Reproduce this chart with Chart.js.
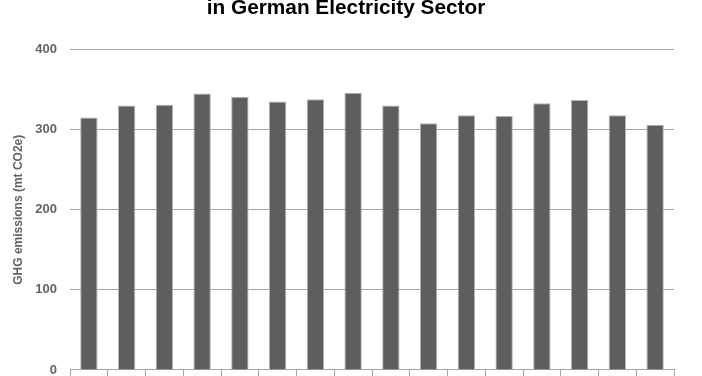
<!DOCTYPE html>
<html lang="en">
<head>
    <meta charset="UTF-8">
    <title>GHG emissions in German Electricity Sector</title>
    <script src="https://cdn.jsdelivr.net/npm/chart.js"></script>
    <style>
        * {
            margin: 0;
            padding: 0;
            box-sizing: border-box;
        }

        body {
            background: #ffffff;
            width: 702px;
            height: 376px;
            overflow: hidden;
        }

        .chart-container {
            position: relative;
            width: 702px;
            height: 404px;
            margin-top: -4px;
        }
    </style>
</head>
<body>
    <div class="chart-container">
        <canvas id="ghgChart"></canvas>
    </div>

    <script>
        // Dados do gráfico
        const years = ["2000", "2001", "2002", "2003", "2004", "2005", "2006", "2007",
                       "2008", "2009", "2010", "2011", "2012", "2013", "2014", "2015"];
        const emissions = [315, 330, 331, 345, 341, 335, 338, 346,
                           330, 308, 318, 317, 333, 337, 318, 306];
        const yTicks = [0, 100, 200, 300, 400];

        const fontFamily = "'Liberation Sans', Arial, sans-serif";
        const labelGray = "#636363";
        const lineGray = "#a6a6a6";

        new Chart(document.getElementById("ghgChart"), {
            type: 'bar',
            data: {
                labels: years,
                datasets: [{
                    label: 'GHG emissions (mt CO2e)',
                    data: emissions,
                    backgroundColor: '#5e5e5e',
                    borderColor: '#b3b3b3',
                    borderWidth: 1,
                    barPercentage: 0.46,
                    categoryPercentage: 1.0
                }]
            },
            options: {
                responsive: true,
                maintainAspectRatio: false,
                animation: false,
                layout: {
                    padding: { left: 18, right: 28, top: 0, bottom: 0 }
                },
                plugins: {
                    legend: { display: false },
                    tooltip: { enabled: false },
                    title: {
                        display: true,
                        text: 'in German Electricity Sector',
                        color: '#000000',
                        font: { family: fontFamily, size: 20.8, weight: 'bold' },
                        padding: { top: 0, bottom: 28.5 }
                    }
                },
                scales: {
                    x: {
                        grid: {
                            display: true,
                            drawOnChartArea: false,
                            drawTicks: true,
                            tickLength: 6,
                            color: lineGray
                        },
                        border: { display: true, color: lineGray, width: 1 },
                        ticks: {
                            color: labelGray,
                            font: { family: fontFamily, size: 13, weight: 'bold' }
                        },
                        afterFit: (scale) => { scale.height = 30; }
                    },
                    y: {
                        min: 0,
                        max: 400,
                        afterBuildTicks: (scale) => {
                            scale.ticks = yTicks.map(v => ({ value: v }));
                        },
                        grid: {
                            color: lineGray,
                            drawTicks: false
                        },
                        border: { display: false },
                        ticks: {
                            padding: 13,
                            color: labelGray,
                            font: { family: fontFamily, size: 13, weight: 'bold' }
                        },
                        title: {
                            display: true,
                            text: 'GHG emissions (mt CO2e)',
                            color: labelGray,
                            font: { family: fontFamily, size: 12, weight: 'bold' },
                            padding: { top: -7, bottom: 0 }
                        },
                        afterFit: (scale) => { scale.width = 52; }
                    }
                }
            }
        });
    </script>
</body>
</html>
